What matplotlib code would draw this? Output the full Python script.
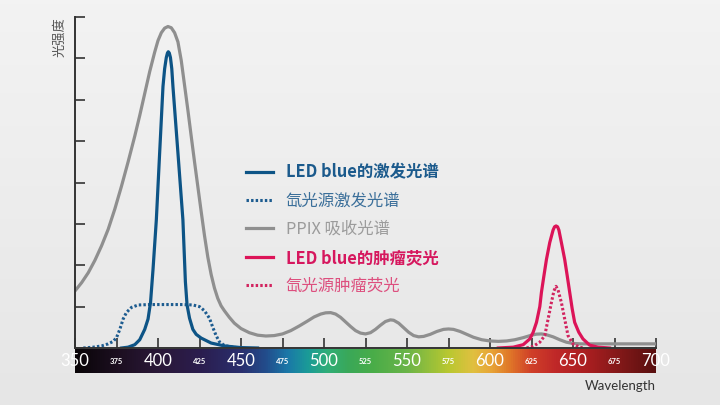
import numpy as np
import matplotlib
matplotlib.use("Agg")
import matplotlib.pyplot as plt
from matplotlib.colors import LinearSegmentedColormap, to_rgb

plt.rcParams["font.family"] = ["Noto Sans CJK SC", "DejaVu Sans"]

# PPIX absorption spectrum (gray)
ppix_nm = [350, 354, 358, 362, 366, 370, 374, 378, 382, 386, 389, 392, 395, 398,
           400, 402, 404, 406, 408, 410, 412, 414, 416, 418, 420, 422, 424, 426,
           428, 430, 432, 434, 436, 438, 440, 443, 446, 450, 455, 460, 465, 470,
           475, 480, 485, 490, 494, 498, 501, 504, 507, 510, 513, 516, 519, 522,
           525, 528, 531, 534, 537, 540, 542, 545, 548, 551, 554, 557, 560, 564,
           568, 572, 575, 578, 582, 586, 590, 595, 600, 605, 610, 615, 620, 625,
           628, 631, 634, 638, 642, 646, 650, 655, 700]
ppix_val = [1.38, 1.58, 1.82, 2.12, 2.47, 2.87, 3.36, 3.91, 4.5, 5.12, 5.62, 6.15, 6.68, 7.15,
            7.43, 7.62, 7.73, 7.77, 7.74, 7.62, 7.4, 6.95, 6.35, 5.75, 5.12, 4.5, 3.9, 3.3,
            2.72, 2.2, 1.78, 1.45, 1.2, 1.02, 0.9, 0.74, 0.6, 0.47, 0.37, 0.31, 0.29, 0.3,
            0.34, 0.42, 0.53, 0.65, 0.75, 0.82, 0.85, 0.855, 0.82, 0.74, 0.63, 0.52, 0.42, 0.36,
            0.34, 0.37, 0.45, 0.55, 0.64, 0.68, 0.67, 0.6, 0.49, 0.38, 0.3, 0.27, 0.28, 0.33,
            0.4, 0.45, 0.46, 0.45, 0.4, 0.33, 0.26, 0.2, 0.17, 0.16, 0.17, 0.2, 0.25, 0.31,
            0.335, 0.34, 0.32, 0.27, 0.2, 0.14, 0.11, 0.1, 0.1]

# LED blue excitation spectrum
led_nm = [378, 382, 386, 389, 392, 394, 395.5, 397, 399, 401, 403, 404, 405, 405.7,
          406.2, 406.8, 407.5, 408.3, 409, 412, 415, 416.5, 417.5, 419, 421, 423, 426,
          432, 440, 450, 460]
led_val = [0.0, 0.02, 0.08, 0.2, 0.45, 0.7, 1.1, 1.9, 3.1, 4.72, 6.32, 6.75, 7.02, 7.13,
           7.16, 7.13, 7.02, 6.75, 6.32, 4.72, 3.1, 1.6, 1.04, 0.72, 0.45, 0.33, 0.24,
           0.12, 0.05, 0.01, 0.0]

# xenon excitation spectrum
xe_nm = [355, 361, 366, 370, 373, 375, 377, 379, 381, 384, 388, 395, 405, 415,
         421, 425, 428, 431, 433, 435, 437, 440, 445, 450]
xe_val = [0.0, 0.02, 0.05, 0.1, 0.16, 0.25, 0.45, 0.7, 0.86, 0.98, 1.04, 1.05, 1.05, 1.05,
          1.04, 1.0, 0.9, 0.72, 0.5, 0.3, 0.15, 0.06, 0.02, 0.0]

# tumour fluorescence, LED blue
led_fl_nm = [605, 614, 620, 624, 626, 628, 630, 631, 632.5, 634, 636, 638, 638.9, 639.8,
             640.7, 641.5, 643, 645, 646.5, 648, 649.5, 651, 653.5, 656, 660, 665, 672]
led_fl_val = [0.0, 0.02, 0.08, 0.22, 0.38, 0.62, 1.0, 1.35, 1.75, 2.14, 2.55, 2.85, 2.93, 2.95,
              2.93, 2.85, 2.55, 2.14, 1.75, 1.35, 0.95, 0.62, 0.38, 0.22, 0.07, 0.02, 0.0]

# tumour fluorescence, xenon
xe_fl_nm = [622, 626, 630, 633, 635, 637, 638.5, 639.8, 641, 643, 645, 647, 650, 654, 656]
xe_fl_val = [0.0, 0.04, 0.14, 0.3, 0.7, 1.1, 1.38, 1.49, 1.4, 1.1, 0.7, 0.3, 0.1, 0.02, 0.0]

labels = ["LED blue的激发光谱", "氙光源激发光谱", "PPIX 吸收光谱",
          "LED blue的肿瘤荧光", "氙光源肿瘤荧光"]
label_colors = ["#1b5a8c", "#3b6f9a", "#9b9b9b", "#d6175e", "#dd4f7e"]
label_weights = ["bold", "normal", "normal", "bold", "normal"]

major_ticks = [350, 400, 450, 500, 550, 600, 650, 700]
minor_ticks = [375, 425, 475, 525, 575, 625, 675]

spec_nm = [350, 375, 400, 425, 450, 465, 478, 490, 502, 515, 530, 550, 575, 590, 600,
           612, 625, 640, 660, 680, 700]
spec_col = ["#0a0508", "#1c0f20", "#2a1838", "#2b1d4e", "#2a2f6e", "#224d8c", "#1a78a8",
            "#1a9a98", "#30ae78", "#3aa858", "#4aad48", "#6ab448", "#b8c830", "#e0c040",
            "#e8a838", "#e07828", "#d04028", "#c02828", "#a81e20", "#801818", "#5a1010"]

fig = plt.figure(figsize=(7.2, 4.05), dpi=100)

# background gradient
bg = fig.add_axes([0, 0, 1, 1], zorder=-10)
top, bot = np.array(to_rgb("#f3f3f3")), np.array(to_rgb("#e6e6e6"))
grad = np.linspace(0, 1, 100)[:, None, None] * (bot - top) + top
bg.imshow(np.repeat(grad, 2, axis=1), aspect="auto", extent=[0, 1, 0, 1])
bg.axis("off")

ax = fig.add_axes([75 / 720, 1 - 348 / 405, 581 / 720, 331 / 405])
ax.set_facecolor("none")

ax.plot(ppix_nm, ppix_val, color="#8f8f8f", lw=2.3, solid_joinstyle="round")
ax.plot(xe_nm, xe_val, color="#1d5c90", lw=2.2, ls=(0, (0.8, 0.7)))
ax.plot(led_nm, led_val, color="#0d5486", lw=2.3, solid_joinstyle="round")
ax.plot(xe_fl_nm, xe_fl_val, color="#d2245f", lw=2.2, ls=(0, (0.8, 0.7)))
ax.plot(led_fl_nm, led_fl_val, color="#dc1458", lw=2.3, solid_joinstyle="round")

lines = ax.get_lines()
order = [2, 1, 0, 4, 3]
leg = ax.legend([lines[i] for i in order], labels, loc="upper left",
                bbox_to_anchor=(0.2935, 0.558), frameon=False, fontsize=11.8,
                handlelength=1.7, handletextpad=0.75, labelspacing=0.68,
                borderpad=0, borderaxespad=0)
for t, c, w in zip(leg.get_texts(), label_colors, label_weights):
    t.set_color(c)
    t.set_fontweight(w)

ax.set_xlim(350, 700)
ax.set_ylim(0, 8)
ax.set_xticks(major_ticks + minor_ticks)
ax.set_xticklabels([])
ax.set_yticks(range(0, 9))
ax.set_yticklabels([])
ax.tick_params(direction="in", length=7, width=1.2, color="#333333")
for s in ["top", "right"]:
    ax.spines[s].set_visible(False)
for s in ["left", "bottom"]:
    ax.spines[s].set_color("#333333")
    ax.spines[s].set_linewidth(1.4)

# wavelength colour bar
bar = fig.add_axes([75 / 720, 1 - 373 / 405, 581 / 720, 24 / 405])
cmap = LinearSegmentedColormap.from_list(
    "spec", [((n - 350) / 350, c) for n, c in zip(spec_nm, spec_col)])
bar.imshow(np.linspace(0, 1, 512)[None, :], aspect="auto", cmap=cmap,
           extent=[350, 700, 0, 1])
bar.set_xlim(350, 700)
bar.set_ylim(0, 1)
bar.axis("off")
for n in major_ticks:
    bar.text(n, 0.5, str(n), color="white", fontsize=12, family="Lato",
             ha="center", va="center", clip_on=False)
for n in minor_ticks:
    bar.text(n, 0.5, str(n), color="white", fontsize=5.5, family="Lato",
             fontweight="bold", ha="center", va="center")

fig.text(60 / 720, 1 - 17 / 405, "光强度", rotation=90, ha="center", va="top",
         fontsize=9.5, color="#555555")
fig.text(656 / 720, 1 - 386 / 405, "Wavelength", ha="right", va="center",
         fontsize=9.5, color="#333333", family="Lato")

fig.savefig("out.png", dpi=100)
